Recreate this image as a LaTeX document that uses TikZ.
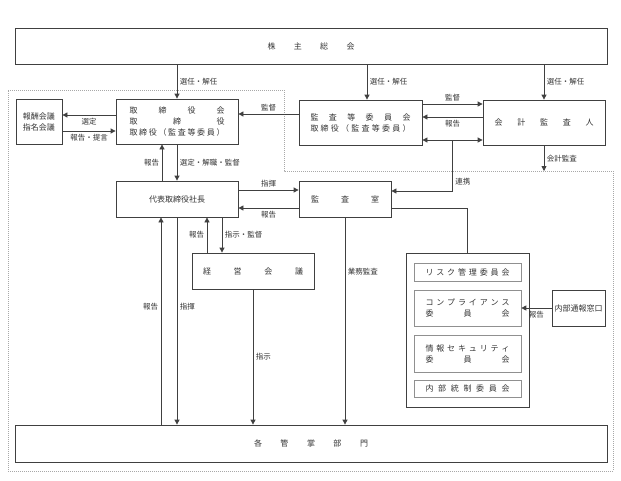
\documentclass[tikz,border=0pt]{standalone}
\usepackage{fontspec}
\usepackage{tikz}
\usetikzlibrary{arrows.meta}
\newfontfamily\jpfont{Noto Sans CJK JP}
\definecolor{linegray}{HTML}{404040}
\definecolor{subgray}{HTML}{909090}
\definecolor{dotgray}{HTML}{A8A8A8}
\newcommand\sprd[2]{\makebox[#1][s]{#2}}

\tikzset{
  box/.style={draw=linegray, line width=0.8pt, inner sep=0pt, align=center,
    text=black!80, font={\jpfont\fontsize{8pt}{11pt}\selectfont}},
  subbox/.style={box, draw=subgray, line width=0.6pt},
  lbl/.style={font={\jpfont\fontsize{7.5pt}{9pt}\selectfont}, text=black!80, inner sep=2.5pt},
  conn/.style={draw=linegray, line width=0.8pt},
  >={Triangle[length=5pt,width=5pt]}
}

\begin{document}
\begin{tikzpicture}[x=1pt, y=-1pt]
    \useasboundingbox (0,0) rectangle (621,480);

    % Boundary
    \draw[dotgray, line width=0.6pt, dash pattern=on 1pt off 1pt]
      (8,90) -- (284,90) -- (284,171) -- (613,171) -- (613,471) -- (8,471) -- cycle;

    % Draw nodes
    \node[box, minimum width=592pt, minimum height=36pt] (soukai) at (311,46)
      {\sprd{87pt}{株\hfill 主\hfill 総\hfill 会}};
    \node[box, minimum width=122pt, minimum height=45pt] (torishimari) at (177,121.5)
      {\sprd{95pt}{取\hfill 締\hfill 役\hfill 会}\\
       \sprd{95pt}{取\hfill 締\hfill 役}\\
       \sprd{95pt}{取\hfill 締\hfill 役\hfill （\hfill 監\hfill 査\hfill 等\hfill 委\hfill 員\hfill ）}};
    \node[box, minimum width=46pt, minimum height=45pt] (houshuu) at (39,121.5)
      {報酬会議\\指名会議};
    \node[box, minimum width=123pt, minimum height=45pt] (kansatou) at (360.5,122.5)
      {\sprd{100pt}{監\hfill 査\hfill 等\hfill 委\hfill 員\hfill 会}\\
       \sprd{100pt}{取\hfill 締\hfill 役\hfill （\hfill 監\hfill 査\hfill 等\hfill 委\hfill 員\hfill ）}};
    \node[box, minimum width=122pt, minimum height=45pt] (kaikei) at (544,122.5)
      {\sprd{99pt}{会\hfill 計\hfill 監\hfill 査\hfill 人}};
    \node[box, minimum width=122pt, minimum height=36pt] (daihyou) at (177,199)
      {代表取締役社長};
    \node[box, minimum width=92pt, minimum height=36pt] (kansashitsu) at (345,199)
      {\sprd{68pt}{監\hfill 査\hfill 室}};
    \node[box, minimum width=122pt, minimum height=36pt] (keiei) at (253,271)
      {\sprd{100pt}{経\hfill 営\hfill 会\hfill 議}};
    \node[box, minimum width=123pt, minimum height=154pt] (iinkai) at (467.5,330) {};
    \node[subbox, minimum width=107pt, minimum height=18pt] (risk) at (467.5,272)
      {\sprd{84pt}{リ\hfill ス\hfill ク\hfill 管\hfill 理\hfill 委\hfill 員\hfill 会}};
    \node[subbox, minimum width=107pt, minimum height=36pt] (comp) at (467.5,308)
      {\sprd{84pt}{コ\hfill ン\hfill プ\hfill ラ\hfill イ\hfill ア\hfill ン\hfill ス}\\
       \sprd{84pt}{委\hfill 員\hfill 会}};
    \node[subbox, minimum width=107pt, minimum height=37pt] (joho) at (467.5,353.5)
      {\sprd{84pt}{情\hfill 報\hfill セ\hfill キ\hfill ュ\hfill リ\hfill テ\hfill ィ}\\
       \sprd{84pt}{委\hfill 員\hfill 会}};
    \node[subbox, minimum width=107pt, minimum height=17pt] (naibu) at (467.5,388.5)
      {\sprd{84pt}{内\hfill 部\hfill 統\hfill 制\hfill 委\hfill 員\hfill 会}};
    \node[box, minimum width=53pt, minimum height=36pt] (tsuuhou) at (578.5,308)
      {内部通報窓口};
    \node[box, minimum width=592pt, minimum height=37pt] (bumon) at (311,443.5)
      {\sprd{114pt}{各\hfill 管\hfill 掌\hfill 部\hfill 門}};

    \coordinate (ksx) at (367,0);
    \coordinate (dotY) at (0,171);

    % Draw connections
    \draw[conn,->] (soukai.south -| torishimari) -- (torishimari.north)
      node[lbl, midway, right] {選任・解任};
    \draw[conn,->] (soukai.south -| ksx) -- (kansatou.north -| ksx)
      node[lbl, midway, right] {選任・解任};
    \draw[conn,->] (soukai.south -| kaikei) -- (kaikei.north)
      node[lbl, midway, right] {選任・解任};

    \draw[conn,->] ([yshift=6.5pt]torishimari.west) -- ([yshift=6.5pt]houshuu.east)
      node[lbl, midway, below] {選定};
    \draw[conn,->] ([yshift=-9.5pt]houshuu.east) -- ([yshift=-9.5pt]torishimari.west)
      node[lbl, midway, below] {報告・提言};
    \draw[conn,->] ([yshift=8.5pt]kansatou.west) -- ([yshift=8.5pt]kansatou.west -| torishimari.east)
      node[lbl, midway, above] {監督};

    \draw[conn,->] ([yshift=18.5pt]kansatou.east) -- ([yshift=18.5pt]kansatou.east -| kaikei.west)
      node[lbl, midway, above] {監督};
    \draw[conn,->] ([yshift=5.5pt]kaikei.west) -- ([yshift=5.5pt]kaikei.west -| kansatou.east)
      node[lbl, midway, below] {報告};
    \draw[conn,<->] ([yshift=-17.5pt]kansatou.east) -- coordinate[midway] (dbl)
      ([yshift=-17.5pt]kansatou.east -| kaikei.west);
    \draw[conn,->] (dbl) |- ([yshift=8pt]kansashitsu.east)
      node[lbl, pos=0.41, right] {連携};
    \draw[conn,->] (kaikei.south) -- (kaikei.south |- dotY)
      node[lbl, midway, right] {会計監査};

    \draw[conn,->] ([xshift=-15pt]daihyou.north) -- ([xshift=-15pt]torishimari.south)
      node[lbl, midway, left] {報告};
    \draw[conn,->] (torishimari.south) -- (daihyou.north)
      node[lbl, midway, right] {選定・解職・監督};

    \draw[conn,->] ([yshift=9pt]daihyou.east) -- ([yshift=9pt]daihyou.east -| kansashitsu.west)
      node[lbl, midway, above] {指揮};
    \draw[conn,->] ([yshift=-9pt]kansashitsu.west) -- ([yshift=-9pt]kansashitsu.west -| daihyou.east)
      node[lbl, midway, below] {報告};
    \draw[conn] ([yshift=-9pt]kansashitsu.east) -| (iinkai.north);

    \draw[conn,->] ([xshift=-46pt]keiei.north) -- ([xshift=-46pt]keiei.north |- daihyou.south)
      node[lbl, midway, left] {報告};
    \draw[conn,->] ([xshift=-31pt]keiei.north |- daihyou.south) -- ([xshift=-31pt]keiei.north)
      node[lbl, midway, right] {指示・監督};

    \draw[conn,->] ([xshift=-16pt]daihyou.south |- bumon.north) -- ([xshift=-16pt]daihyou.south)
      node[lbl, pos=0.57, left] {報告};
    \draw[conn,->] (daihyou.south) -- (daihyou.south |- bumon.north)
      node[lbl, pos=0.43, right] {指揮};
    \draw[conn,->] (keiei.south) -- (keiei.south |- bumon.north)
      node[lbl, midway, right] {指示};
    \draw[conn,->] (kansashitsu.south) -- (kansashitsu.south |- bumon.north)
      node[lbl, pos=0.26, right] {業務監査};

    \draw[conn,->] (tsuuhou.west) -- (comp.east)
      node[lbl, midway, below] {報告};
\end{tikzpicture}
\end{document}
